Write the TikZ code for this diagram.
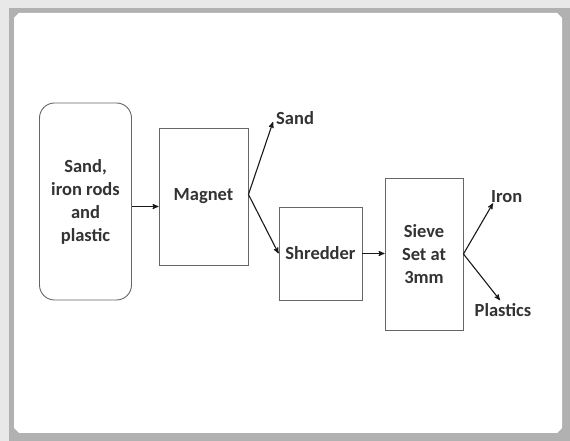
\documentclass[tikz,border=0pt]{standalone}
\usepackage{xcolor}
\usepackage{fontspec}
\setmainfont{Carlito}
\usepackage{tikz}
\usetikzlibrary{arrows}
\definecolor{framegray}{HTML}{B1B1B1}
\definecolor{outergray}{HTML}{E8E8E8}
\definecolor{inkgray}{HTML}{333333}
\tikzset{
    tnode/.style = {align=center, inner sep=0pt, text centered, text=inkgray,
                    font=\fontsize{18.5}{23}\selectfont\bfseries},
    box_node/.style = {tnode, rectangle, draw=black!60, line width=0.9pt},
    feed_node/.style = {box_node, rounded corners=15pt},
    out_label/.style = {tnode, inner sep=2pt},
    flow/.style = {->, >=stealth', draw=black!90, line width=1.1pt}
}

\begin{document}
\begin{tikzpicture}[x=1pt, y=1pt]
    % frame
    \fill[outergray] (0,0) rectangle (570,441);
    \fill[framegray] (8.5,0) rectangle (570,433);
    \fill[white] (14,13) -- (14,423) -- (19,428) -- (557,428) -- (562,423)
                 -- (562,13) -- (557,8) -- (19,8) -- cycle;
    \useasboundingbox (0,0) rectangle (570,441);

    % boxes
    \node[feed_node, minimum width=92pt, minimum height=197pt] (feed) at (85.5,239.5)
        {Sand,\\iron rods\\and\\plastic};
    \node[box_node, minimum width=89pt, minimum height=137pt] (magnet) at (203.5,244.5) {Magnet};
    \node[box_node, minimum width=83pt, minimum height=93pt] (shredder) at (320.5,187.5) {Shredder};
    \node[box_node, minimum width=78pt, minimum height=152pt] (sieve) at (424,187)
        {Sieve\\Set at\\3mm};

    % outputs
    \node[out_label, anchor=west] (sand) at (274,323) {Sand};
    \node[out_label, anchor=west] (iron) at (489,244) {Iron};
    \node[out_label] (plastics) at (503,131) {Plastics};

    % connectors
    \draw[flow] ([yshift=-5pt]feed.east) -- ([yshift=-5pt]feed.east -| magnet.west);
    \draw[flow] ([yshift=2pt]magnet.east) -- ([yshift=-4pt,xshift=-1pt]sand.west);
    \draw[flow] ([yshift=2pt]magnet.east) -- (shredder.west);
    \draw[flow] (shredder.east) -- (shredder.east -| sieve.west);
    \draw[flow] (sieve.east) -- ([xshift=4pt,yshift=2pt]iron.south west);
    \draw[flow] (sieve.east) -- ([xshift=-3pt,yshift=1pt]plastics.north);
\end{tikzpicture}
\end{document}
